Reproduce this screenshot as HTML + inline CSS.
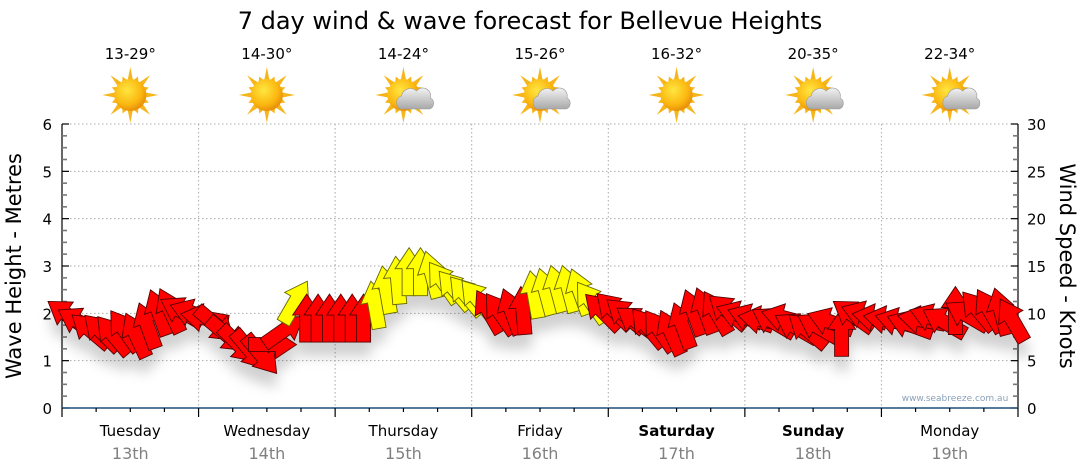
<!DOCTYPE html>
<html><head><meta charset="utf-8"><style>
html,body{margin:0;padding:0;background:#fff;}
svg{display:block;font-family:"DejaVu Sans","Liberation Sans",sans-serif;}
</style></head><body>
<svg id="chart" width="1080" height="475" viewBox="0 0 1080 475">
<defs>
<filter id="shadow" x="-20%" y="-20%" width="140%" height="160%"><feDropShadow dx="0" dy="14" stdDeviation="6" flood-color="#000" flood-opacity="0.18"/></filter>
<radialGradient id="sunG" cx="40%" cy="35%" r="65%"><stop offset="0" stop-color="#ffe640"/><stop offset="0.7" stop-color="#fbb710"/><stop offset="1" stop-color="#e8900a"/></radialGradient>
<linearGradient id="cloudG" x1="0" y1="0" x2="0" y2="1"><stop offset="0" stop-color="#f2f2f2"/><stop offset="1" stop-color="#a8a8a8"/></linearGradient>
</defs>
<text x="530" y="29" font-size="24" text-anchor="middle" fill="#000">7 day wind &amp; wave forecast for Bellevue Heights</text>
<g id="grid"></g>
<g id="header"></g>
<g id="axes"></g>
<g id="arrows" filter="url(#shadow)"></g>
<text x="955" y="401" font-size="9" text-anchor="middle" fill="#8aa0b8">www.seabreeze.com.au</text>
<text transform="translate(21,266) rotate(-90)" font-size="21" text-anchor="middle" fill="#000">Wave Height - Metres</text>
<text transform="translate(1060,266) rotate(90)" font-size="21" text-anchor="middle" fill="#000">Wind Speed - Knots</text>
</svg>
<script>
const days=["Tuesday","Wednesday","Thursday","Friday","Saturday","Sunday","Monday"];
const dates=["13th","14th","15th","16th","17th","18th","19th"];
const temps=["13-29°","14-30°","14-24°","15-26°","16-32°","20-35°","22-34°"];
const cloudy=[0,0,1,1,0,1,1];
const leftTicks=[0,1,2,3,4,5,6];
const rightTicks=[0,5,10,15,20,25,30];
const windKnots=[
9.8,9.1,8.2,8.0,7.7,8.2,7.7,8.7,10.1,10.3,10.2,10.0,
9.5,8.8,7.7,6.7,6.1,5.6,6.7,8.2,11.2,9.5,9.5,9.5,
9.5,9.5,9.5,10.9,12.5,13.5,14.4,14.4,14.1,13.3,12.5,11.9,
11.5,10.2,10.0,10.2,10.3,12.0,12.3,12.6,12.6,12.3,11.2,10.2,
10.3,9.8,9.1,8.5,8.2,8.0,8.7,10.1,10.3,10.1,10.2,9.8,
9.5,9.3,9.1,9.5,8.5,8.2,8.5,9.1,8.0,9.8,9.8,9.5,
9.3,9.1,8.8,9.3,9.5,9.1,10.3,9.8,10.3,10.3,10.2,9.3];
const windDir=[
-55,-60,-50,-45,-40,-35,-25,-20,-20,-25,-60,-70,
-80,130,130,135,140,140,90,55,30,0,0,0,
0,0,0,-10,-10,-5,0,0,-15,-35,-40,-40,
-40,-30,-35,-20,-5,-10,-15,-15,-15,-20,-35,-45,
-45,-50,-55,-40,-35,-25,-20,-20,-20,-30,-50,-70,
-70,-80,-60,-75,-60,-50,-60,-70,0,-55,-70,-80,
-80,-75,-70,-80,-70,-60,0,-60,-40,-30,-15,-30];
const perDay=12, yellowAt=10.5;
const X0=62,X1=1018,Y0=408,Y1=124;
const dayW=(X1-X0)/7;
const yM=m=>Y0-(m/6)*(Y0-Y1);
const yK=k=>Y0-(k/30)*(Y0-Y1);
const xI=i=>X0+(i+0.5)*dayW/perDay;
const NS="http://www.w3.org/2000/svg";
function mk(tag,attrs,parent,txt){const e=document.createElementNS(NS,tag);for(const k in attrs)e.setAttribute(k,attrs[k]);if(txt!==undefined)e.textContent=txt;parent.appendChild(e);return e;}
const grid=document.getElementById('grid'),axes=document.getElementById('axes'),hdr=document.getElementById('header'),arr=document.getElementById('arrows');
for(let m=1;m<=6;m++){const l=mk('line',{x1:X0,x2:X1,y1:yM(m),y2:yM(m),stroke:'#aaa','stroke-dasharray':'1.5,2.5','stroke-width':1},grid);

}
for(let d=1;d<7;d++){const x=X0+d*dayW;const l=mk('line',{x1:x,x2:x,y1:Y1,y2:Y0,stroke:'#aaa','stroke-dasharray':'1.5,2.5','stroke-width':1},grid);

}
mk('line',{x1:X0,x2:X0,y1:Y1,y2:Y0,stroke:'#000','stroke-width':1.2},axes);
mk('line',{x1:X1,x2:X1,y1:Y1,y2:Y0,stroke:'#000','stroke-width':1.2},axes);
for(let q=0;q<=24;q++){const y=yM(q/4);const len=q%4?5:7;
mk('line',{x1:X0,x2:X0+len,y1:y,y2:y,stroke:q%4?'#777':'#000','stroke-width':q%4?1.6:1.2},axes);
mk('line',{x1:X1-len,x2:X1,y1:y,y2:y,stroke:q%4?'#777':'#000','stroke-width':q%4?1.6:1.2},axes);}
leftTicks.forEach(v=>{const t=mk('text',{x:X0-10,y:yM(v)+6,'font-size':15,'text-anchor':'end',fill:'#000'},axes,v);

});
rightTicks.forEach(v=>{const t=mk('text',{x:X1+9,y:yK(v)+6,'font-size':15,'text-anchor':'start',fill:'#000'},axes,v);

});
mk('line',{x1:X0,x2:X1,y1:Y0,y2:Y0,stroke:'#1d4f78','stroke-width':1.5},axes);
for(let s=0;s<=28;s++){const x=X0+s*dayW/4;mk('line',{x1:x,x2:x,y1:Y0,y2:Y0+(s%4?4:9),stroke:'#000','stroke-width':1.2},axes);}
days.forEach((d,i)=>{const cx=X0+(i+0.5)*dayW;const wkend=(d==='Saturday'||d==='Sunday');
const a=mk('text',{x:cx,y:436,'font-size':15,'text-anchor':'middle',fill:'#000','font-weight':wkend?'bold':'normal'},axes,d);


const b=mk('text',{x:cx,y:459,'font-size':16,'text-anchor':'middle',fill:'#808080'},axes,dates[i]);


const t=mk('text',{x:cx,y:59,'font-size':15,'text-anchor':'middle',fill:'#000'},hdr,temps[i]);


const g=mk('g',{transform:`translate(${cx},95)`},hdr);


for(let r=0;r<16;r++){const ang=r*22.5;const L=r%2?20:28;
mk('polygon',{points:`-2.6,-15 2.6,-15 0,-${L}`,fill:'#f6b51a',transform:`rotate(${ang})`},g);}
mk('circle',{r:16,fill:'url(#sunG)'},g);
if(cloudy[i]){const c=mk('g',{transform:'translate(11,4)'},g);
mk('path',{d:'M-14,10 a7,7 0 0 1 1,-13 a9,9 0 0 1 15,-5 a8,8 0 0 1 14,7 a6,6 0 0 1 -1,11 z',fill:'url(#cloudG)',stroke:'#999','stroke-width':0.6},c);}
});
const shape="0,-24 14,-3 7,-3 7,24 -7,24 -7,-3 -14,-3";
windKnots.forEach((k,i)=>{const p=mk('polygon',{points:shape,fill:k>=yellowAt?'#ffff00':'#ff0000',stroke:k>=yellowAt?'#666600':'#550000','stroke-width':0.9,transform:`translate(${xI(i).toFixed(1)},${yK(k).toFixed(1)}) rotate(${windDir[i]})`},arr);

});
</script>
</body></html>
